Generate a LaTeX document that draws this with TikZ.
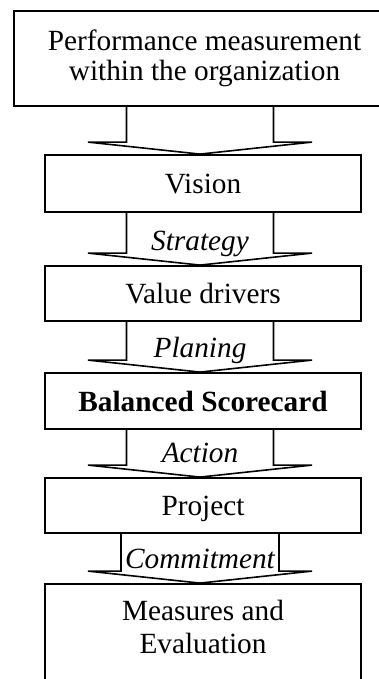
\documentclass[tikz,border=0pt]{standalone}
\usepackage{fontspec}
\setmainfont{Liberation Serif}
\usetikzlibrary{calc}

\begin{document}
\begin{tikzpicture}[
    x=1pt, y=-1pt,
    font=\fontsize{29.3}{30}\selectfont,
    box/.style={
        draw, line width=1.8pt, inner sep=0pt, align=center,
        minimum width=316pt, text height=20pt, text depth=0pt,
    },
    barrow/.style={draw, line width=1.6pt, line join=miter},
    lbl/.style={font=\fontsize{29.3}{30}\selectfont\itshape, anchor=base, inner sep=0pt},
]
\clip (0,0) rectangle (379,679);

% --- Boxes -------------------------------------------------
\node[box, minimum width=381pt, minimum height=95pt, text height=, text depth=] (perf)
    at (204.5,58.5) {Performance measurement\\within the organization};
\node[box, minimum height=57pt] (vis) at (203,183.5) {Vision};
\node[box, minimum height=55pt] (val) at (203,293.5) {Value drivers};
\node[box, minimum height=56pt, font=\fontsize{29.3}{30}\selectfont\bfseries] (bsc)
    at (203,401) {Balanced Scorecard};
\node[box, minimum height=55pt] (proj) at (203,505.5) {Project};
\node[box, minimum height=111pt, text height=, text depth=, font=\fontsize{29.3}{33}\selectfont] (meas)
    at (203,639.5) {Measures and\\Evaluation\rule[-25pt]{0pt}{25pt}};

% --- Block arrows ------------------------------------------
\coordinate (ax) at (200,0);
\foreach \a/\b/\w in {perf/vis/73.5, vis/val/73.5, val/bsc/73.5, bsc/proj/73.5, proj/meas/79} {
    \draw[barrow] ($(\a.south -| ax)+(-\w,0)$) -- ($(\b.north -| ax)+(-\w,-12)$)
        -- ($(\b.north -| ax)+(-112,-12)$) -- (\b.north -| ax)
        -- ($(\b.north -| ax)+(112,-12)$) -- ($(\b.north -| ax)+(\w,-12)$)
        -- ($(\a.south -| ax)+(\w,0)$);
}

% --- Arrow labels ------------------------------------------
\foreach \b/\txt in {val/Strategy, bsc/Planing, proj/Action, meas/Commitment} {
    \node[lbl] (lbl-\b) at ($(\b.north -| ax)+(0,-15)$) {\txt};
}

\end{tikzpicture}
\end{document}
